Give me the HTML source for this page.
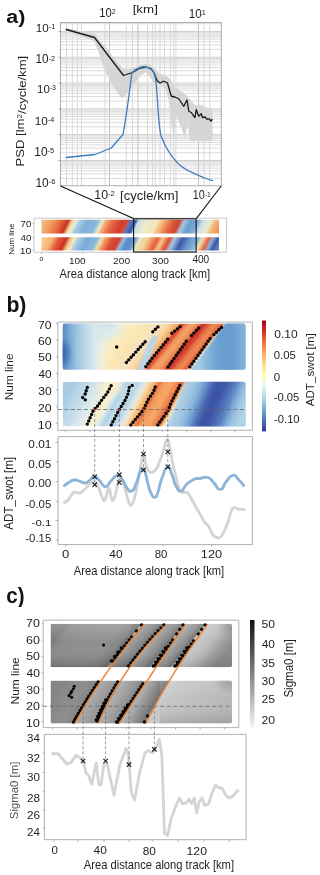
<!DOCTYPE html>
<html><head><meta charset="utf-8"><style>
html,body{margin:0;padding:0;background:#fff;width:320px;height:875px;overflow:hidden;font-family:"Liberation Sans",sans-serif;}
svg{display:block} text{-webkit-font-smoothing:antialiased}
</style></head><body>
<svg width="320" height="875" viewBox="0 0 320 875" font-family="Liberation Sans, sans-serif"><defs><linearGradient id="ga1" gradientUnits="userSpaceOnUse" x1="41.5" y1="0" x2="219" y2="0" gradientTransform="translate(0 226.6) skewX(-26.565) translate(0 -226.6)"><stop offset="0.0000" stop-color="#f6b87a"/><stop offset="0.0479" stop-color="#f09a5c"/><stop offset="0.0930" stop-color="#e86a40"/><stop offset="0.1352" stop-color="#c8302a"/><stop offset="0.1577" stop-color="#f4d08a"/><stop offset="0.1775" stop-color="#e8eed8"/><stop offset="0.2000" stop-color="#a8cce4"/><stop offset="0.2451" stop-color="#7eb0d8"/><stop offset="0.3014" stop-color="#8ab8dc"/><stop offset="0.3296" stop-color="#e8ecd0"/><stop offset="0.3465" stop-color="#f6b070"/><stop offset="0.3859" stop-color="#e86a44"/><stop offset="0.4423" stop-color="#d23c2c"/><stop offset="0.4704" stop-color="#d84a34"/><stop offset="0.4873" stop-color="#5a78c0"/><stop offset="0.5155" stop-color="#3a58a8"/><stop offset="0.5324" stop-color="#c8dcea"/><stop offset="0.5831" stop-color="#f0ecc8"/><stop offset="0.6394" stop-color="#f4e4b8"/><stop offset="0.6789" stop-color="#f4a868"/><stop offset="0.7239" stop-color="#e06040"/><stop offset="0.7634" stop-color="#d04030"/><stop offset="0.7915" stop-color="#a8c8e0"/><stop offset="0.8254" stop-color="#6a9ed0"/><stop offset="0.8704" stop-color="#7eaed8"/><stop offset="0.8930" stop-color="#c8dcea"/><stop offset="0.9380" stop-color="#e8ecd0"/><stop offset="0.9718" stop-color="#f2b070"/><stop offset="1.0000" stop-color="#f09a60"/></linearGradient><linearGradient id="ga2" gradientUnits="userSpaceOnUse" x1="41.5" y1="0" x2="219" y2="0" gradientTransform="translate(0 244) skewX(-26.565) translate(0 -244)"><stop offset="0.0000" stop-color="#f8cc8c"/><stop offset="0.0479" stop-color="#f4b070"/><stop offset="0.0817" stop-color="#e45c3c"/><stop offset="0.1268" stop-color="#cc3028"/><stop offset="0.1493" stop-color="#f0c080"/><stop offset="0.1718" stop-color="#f4ecc8"/><stop offset="0.1944" stop-color="#a8cce4"/><stop offset="0.2451" stop-color="#78aad6"/><stop offset="0.3014" stop-color="#8abadc"/><stop offset="0.3239" stop-color="#f0e0b0"/><stop offset="0.3521" stop-color="#f09058"/><stop offset="0.3859" stop-color="#dc4c34"/><stop offset="0.4254" stop-color="#d04030"/><stop offset="0.4479" stop-color="#98bcdc"/><stop offset="0.4761" stop-color="#5a8ac8"/><stop offset="0.5155" stop-color="#6a98cc"/><stop offset="0.5380" stop-color="#e8e8c8"/><stop offset="0.5831" stop-color="#f4d090"/><stop offset="0.6394" stop-color="#e85c3c"/><stop offset="0.6676" stop-color="#f4c888"/><stop offset="0.7070" stop-color="#dc4a34"/><stop offset="0.7352" stop-color="#a8c8e0"/><stop offset="0.7803" stop-color="#3a5aa8"/><stop offset="0.8254" stop-color="#6a98cc"/><stop offset="0.8704" stop-color="#8ab8dc"/><stop offset="0.8930" stop-color="#f4e0a8"/><stop offset="0.9268" stop-color="#e86040"/><stop offset="0.9493" stop-color="#8ab0d8"/><stop offset="0.9775" stop-color="#3a58a8"/><stop offset="1.0000" stop-color="#5a80c0"/></linearGradient><linearGradient id="gb1" gradientUnits="userSpaceOnUse" x1="62.6" y1="0" x2="245.6" y2="0" gradientTransform="translate(0 347) skewX(-38.660) translate(0 -347)"><stop offset="0.0000" stop-color="#5a88c4"/><stop offset="0.0240" stop-color="#6e9ccf"/><stop offset="0.0623" stop-color="#8cb8da"/><stop offset="0.1060" stop-color="#a8cce4"/><stop offset="0.1497" stop-color="#c4dcea"/><stop offset="0.1880" stop-color="#d8e8ee"/><stop offset="0.2208" stop-color="#eef0dc"/><stop offset="0.2590" stop-color="#f8ecc4"/><stop offset="0.3137" stop-color="#faeab8"/><stop offset="0.3574" stop-color="#fae4b0"/><stop offset="0.3956" stop-color="#f8e4bc"/><stop offset="0.4251" stop-color="#f6e2c0"/><stop offset="0.4448" stop-color="#f6e0bc"/><stop offset="0.4667" stop-color="#f8d8a8"/><stop offset="0.4940" stop-color="#f8cc90"/><stop offset="0.5158" stop-color="#f6b474"/><stop offset="0.5393" stop-color="#f09a5c"/><stop offset="0.5486" stop-color="#d8442e"/><stop offset="0.5650" stop-color="#e05a3a"/><stop offset="0.5814" stop-color="#f0925a"/><stop offset="0.6087" stop-color="#f4a466"/><stop offset="0.6361" stop-color="#ee8a52"/><stop offset="0.6530" stop-color="#e46a44"/><stop offset="0.6634" stop-color="#c83028"/><stop offset="0.6852" stop-color="#d4402e"/><stop offset="0.7126" stop-color="#e8764a"/><stop offset="0.7399" stop-color="#ee8a52"/><stop offset="0.7617" stop-color="#e86a44"/><stop offset="0.7732" stop-color="#e05a3c"/><stop offset="0.7809" stop-color="#f4a868"/><stop offset="0.7891" stop-color="#fbe4b0"/><stop offset="0.8000" stop-color="#c8e0ec"/><stop offset="0.8164" stop-color="#90bcde"/><stop offset="1.0000" stop-color="#80b0d8"/></linearGradient><clipPath id="cb1"><rect x="62.6" y="323.5" width="183" height="46.3" rx="2.5"/></clipPath><clipPath id="cb2"><rect x="62.6" y="381.7" width="183" height="44.8" rx="2.5"/></clipPath><filter id="bl1" x="-20%" y="-20%" width="140%" height="140%"><feGaussianBlur stdDeviation="1.2"/></filter><filter id="bl3" x="-50%" y="-50%" width="200%" height="200%"><feGaussianBlur stdDeviation="3"/></filter><linearGradient id="gbb1" gradientUnits="userSpaceOnUse" x1="200" y1="0" x2="246" y2="0"><stop offset="0" stop-color="#a6cae3"/><stop offset="0.15" stop-color="#86b6da"/><stop offset="0.4" stop-color="#6c9fd0"/><stop offset="0.7" stop-color="#6a9ccf"/><stop offset="1" stop-color="#88b6da"/></linearGradient><linearGradient id="lftb" gradientUnits="userSpaceOnUse" x1="62.6" y1="0" x2="112" y2="0"><stop offset="0" stop-color="#5686c2"/><stop offset="0.12" stop-color="#76a6d4"/><stop offset="0.3" stop-color="#a0c6e2"/><stop offset="0.5" stop-color="#c4dcea"/><stop offset="0.66" stop-color="#dceaee"/><stop offset="0.8" stop-color="#eef0e0" stop-opacity="0.6"/><stop offset="1" stop-color="#f8ecc4" stop-opacity="0"/></linearGradient><linearGradient id="gb2" gradientUnits="userSpaceOnUse" x1="62.6" y1="0" x2="245.6" y2="0" gradientTransform="translate(0 404) skewX(-28.811) translate(0 -404)"><stop offset="0.0000" stop-color="#a8cce4"/><stop offset="0.0404" stop-color="#b8d6e8"/><stop offset="0.0842" stop-color="#c4dcea"/><stop offset="0.1279" stop-color="#d6e6ee"/><stop offset="0.1661" stop-color="#e4ece6"/><stop offset="0.1989" stop-color="#eef0dc"/><stop offset="0.2098" stop-color="#f4eed4"/><stop offset="0.2317" stop-color="#fbf0c8"/><stop offset="0.2536" stop-color="#e0ecec"/><stop offset="0.2809" stop-color="#b4d4e8"/><stop offset="0.3082" stop-color="#c0daea"/><stop offset="0.3284" stop-color="#c4dcea"/><stop offset="0.3519" stop-color="#b8d6e8"/><stop offset="0.3792" stop-color="#d8e8ec"/><stop offset="0.4011" stop-color="#f4e4c0"/><stop offset="0.4230" stop-color="#f8c888"/><stop offset="0.4448" stop-color="#f4a868"/><stop offset="0.4563" stop-color="#f0905a"/><stop offset="0.4667" stop-color="#ea7046"/><stop offset="0.4885" stop-color="#f29c5e"/><stop offset="0.5322" stop-color="#f6a866"/><stop offset="0.5650" stop-color="#ee8652"/><stop offset="0.5902" stop-color="#e05a3a"/><stop offset="0.5995" stop-color="#f08a50"/><stop offset="0.6115" stop-color="#f8cc90"/><stop offset="0.6224" stop-color="#fbecc8"/><stop offset="0.6415" stop-color="#c8e0ec"/><stop offset="1.0000" stop-color="#a8cce4"/></linearGradient><linearGradient id="gbb2" gradientUnits="userSpaceOnUse" x1="176" y1="0" x2="246" y2="0" gradientTransform="translate(0 404) skewX(-21.801) translate(0 -404)"><stop offset="0.0000" stop-color="#b4d4e8"/><stop offset="0.1429" stop-color="#a0c6e2"/><stop offset="0.2286" stop-color="#8ab6dc"/><stop offset="0.3143" stop-color="#6a96cc"/><stop offset="0.4000" stop-color="#4a68b2"/><stop offset="0.4857" stop-color="#3a52a4"/><stop offset="0.5714" stop-color="#3e56a6"/><stop offset="0.6571" stop-color="#4a6ab2"/><stop offset="0.7429" stop-color="#5a82c2"/><stop offset="0.8286" stop-color="#80acd8"/><stop offset="0.9143" stop-color="#a0c6e2"/><stop offset="1.0000" stop-color="#b0d2e6"/></linearGradient><linearGradient id="cbB" x1="0" y1="0" x2="0" y2="1"><stop offset="0" stop-color="#a50026"/><stop offset="0.1" stop-color="#d73027"/><stop offset="0.2" stop-color="#f46d43"/><stop offset="0.3" stop-color="#fdae61"/><stop offset="0.4" stop-color="#fee090"/><stop offset="0.5" stop-color="#ffffbf"/><stop offset="0.6" stop-color="#e0f3f8"/><stop offset="0.7" stop-color="#abd9e9"/><stop offset="0.8" stop-color="#74add1"/><stop offset="0.9" stop-color="#4575b4"/><stop offset="1" stop-color="#313695"/></linearGradient><clipPath id="cc1"><rect x="50.5" y="623.7" width="181.5" height="43.6" rx="2"/></clipPath><clipPath id="cc2"><rect x="50.5" y="680.6" width="181.5" height="43" rx="2"/></clipPath><linearGradient id="gc1" gradientUnits="userSpaceOnUse" x1="50.5" y1="0" x2="232" y2="0" gradientTransform="translate(0 645) skewX(-38.660) translate(0 -645)"><stop offset="0.0000" stop-color="#7a7a7a"/><stop offset="0.0303" stop-color="#888888"/><stop offset="0.1625" stop-color="#8e8e8e"/><stop offset="0.3003" stop-color="#8e8e8e"/><stop offset="0.3664" stop-color="#858585"/><stop offset="0.4017" stop-color="#727272"/><stop offset="0.4127" stop-color="#aaaaaa"/><stop offset="0.4435" stop-color="#9a9a9a"/><stop offset="0.4876" stop-color="#8a8a8a"/><stop offset="0.5201" stop-color="#747474"/><stop offset="0.5311" stop-color="#b0b0b0"/><stop offset="0.5647" stop-color="#9c9c9c"/><stop offset="0.6088" stop-color="#8a8a8a"/><stop offset="0.6386" stop-color="#727272"/><stop offset="0.6496" stop-color="#b4b4b4"/><stop offset="0.6860" stop-color="#a0a0a0"/><stop offset="0.7300" stop-color="#8c8c8c"/><stop offset="0.7559" stop-color="#747474"/><stop offset="0.7669" stop-color="#c8c8c8"/><stop offset="0.8237" stop-color="#c4c4c4"/><stop offset="0.8788" stop-color="#b8b8b8"/><stop offset="0.9339" stop-color="#a0a0a0"/><stop offset="1.0000" stop-color="#8a8a8a"/></linearGradient><linearGradient id="gc2" gradientUnits="userSpaceOnUse" x1="50.5" y1="0" x2="232" y2="0" gradientTransform="translate(0 702) skewX(-30.114) translate(0 -702)"><stop offset="0.0000" stop-color="#848484"/><stop offset="0.0523" stop-color="#8a8a8a"/><stop offset="0.1350" stop-color="#8e8e8e"/><stop offset="0.1945" stop-color="#828282"/><stop offset="0.2055" stop-color="#aeaeae"/><stop offset="0.2452" stop-color="#a2a2a2"/><stop offset="0.2893" stop-color="#959595"/><stop offset="0.3168" stop-color="#848484"/><stop offset="0.3278" stop-color="#b0b0b0"/><stop offset="0.3664" stop-color="#a4a4a4"/><stop offset="0.4160" stop-color="#949494"/><stop offset="0.4452" stop-color="#828282"/><stop offset="0.4562" stop-color="#b4b4b4"/><stop offset="0.4931" stop-color="#a4a4a4"/><stop offset="0.5372" stop-color="#8a8a8a"/><stop offset="0.5802" stop-color="#727272"/><stop offset="0.5912" stop-color="#cccccc"/><stop offset="0.6584" stop-color="#c6c6c6"/><stop offset="0.7686" stop-color="#c0c0c0"/><stop offset="0.8788" stop-color="#bcbcbc"/><stop offset="1.0000" stop-color="#b6b6b6"/></linearGradient><linearGradient id="vshade" x1="0" y1="0" x2="0" y2="1"><stop offset="0" stop-color="#fff" stop-opacity="0.2"/><stop offset="0.45" stop-color="#fff" stop-opacity="0"/><stop offset="1" stop-color="#000" stop-opacity="0.2"/></linearGradient><linearGradient id="cbC" x1="0" y1="0" x2="0" y2="1"><stop offset="0" stop-color="#111"/><stop offset="1" stop-color="#f4f4f4"/></linearGradient></defs><line x1="60.50" y1="178.48" x2="221.25" y2="178.48" stroke="#d8d8d8" stroke-width="0.9" />
<line x1="60.50" y1="173.94" x2="221.25" y2="173.94" stroke="#d8d8d8" stroke-width="0.9" />
<line x1="60.50" y1="170.72" x2="221.25" y2="170.72" stroke="#d8d8d8" stroke-width="0.9" />
<line x1="60.50" y1="168.22" x2="221.25" y2="168.22" stroke="#d8d8d8" stroke-width="0.9" />
<line x1="60.50" y1="166.17" x2="221.25" y2="166.17" stroke="#d8d8d8" stroke-width="0.9" />
<line x1="60.50" y1="164.45" x2="221.25" y2="164.45" stroke="#d8d8d8" stroke-width="0.9" />
<line x1="60.50" y1="162.95" x2="221.25" y2="162.95" stroke="#d8d8d8" stroke-width="0.9" />
<line x1="60.50" y1="161.63" x2="221.25" y2="161.63" stroke="#d8d8d8" stroke-width="0.9" />
<line x1="60.50" y1="160.45" x2="221.25" y2="160.45" stroke="#c8c8c8" stroke-width="0.9" />
<line x1="60.50" y1="152.68" x2="221.25" y2="152.68" stroke="#d8d8d8" stroke-width="0.9" />
<line x1="60.50" y1="148.14" x2="221.25" y2="148.14" stroke="#d8d8d8" stroke-width="0.9" />
<line x1="60.50" y1="144.92" x2="221.25" y2="144.92" stroke="#d8d8d8" stroke-width="0.9" />
<line x1="60.50" y1="142.42" x2="221.25" y2="142.42" stroke="#d8d8d8" stroke-width="0.9" />
<line x1="60.50" y1="140.37" x2="221.25" y2="140.37" stroke="#d8d8d8" stroke-width="0.9" />
<line x1="60.50" y1="138.65" x2="221.25" y2="138.65" stroke="#d8d8d8" stroke-width="0.9" />
<line x1="60.50" y1="137.15" x2="221.25" y2="137.15" stroke="#d8d8d8" stroke-width="0.9" />
<line x1="60.50" y1="135.83" x2="221.25" y2="135.83" stroke="#d8d8d8" stroke-width="0.9" />
<line x1="60.50" y1="134.65" x2="221.25" y2="134.65" stroke="#c8c8c8" stroke-width="0.9" />
<line x1="60.50" y1="126.88" x2="221.25" y2="126.88" stroke="#d8d8d8" stroke-width="0.9" />
<line x1="60.50" y1="122.34" x2="221.25" y2="122.34" stroke="#d8d8d8" stroke-width="0.9" />
<line x1="60.50" y1="119.12" x2="221.25" y2="119.12" stroke="#d8d8d8" stroke-width="0.9" />
<line x1="60.50" y1="116.62" x2="221.25" y2="116.62" stroke="#d8d8d8" stroke-width="0.9" />
<line x1="60.50" y1="114.57" x2="221.25" y2="114.57" stroke="#d8d8d8" stroke-width="0.9" />
<line x1="60.50" y1="112.85" x2="221.25" y2="112.85" stroke="#d8d8d8" stroke-width="0.9" />
<line x1="60.50" y1="111.35" x2="221.25" y2="111.35" stroke="#d8d8d8" stroke-width="0.9" />
<line x1="60.50" y1="110.03" x2="221.25" y2="110.03" stroke="#d8d8d8" stroke-width="0.9" />
<line x1="60.50" y1="108.85" x2="221.25" y2="108.85" stroke="#c8c8c8" stroke-width="0.9" />
<line x1="60.50" y1="101.08" x2="221.25" y2="101.08" stroke="#d8d8d8" stroke-width="0.9" />
<line x1="60.50" y1="96.54" x2="221.25" y2="96.54" stroke="#d8d8d8" stroke-width="0.9" />
<line x1="60.50" y1="93.32" x2="221.25" y2="93.32" stroke="#d8d8d8" stroke-width="0.9" />
<line x1="60.50" y1="90.82" x2="221.25" y2="90.82" stroke="#d8d8d8" stroke-width="0.9" />
<line x1="60.50" y1="88.77" x2="221.25" y2="88.77" stroke="#d8d8d8" stroke-width="0.9" />
<line x1="60.50" y1="87.05" x2="221.25" y2="87.05" stroke="#d8d8d8" stroke-width="0.9" />
<line x1="60.50" y1="85.55" x2="221.25" y2="85.55" stroke="#d8d8d8" stroke-width="0.9" />
<line x1="60.50" y1="84.23" x2="221.25" y2="84.23" stroke="#d8d8d8" stroke-width="0.9" />
<line x1="60.50" y1="83.05" x2="221.25" y2="83.05" stroke="#c8c8c8" stroke-width="0.9" />
<line x1="60.50" y1="75.28" x2="221.25" y2="75.28" stroke="#d8d8d8" stroke-width="0.9" />
<line x1="60.50" y1="70.74" x2="221.25" y2="70.74" stroke="#d8d8d8" stroke-width="0.9" />
<line x1="60.50" y1="67.52" x2="221.25" y2="67.52" stroke="#d8d8d8" stroke-width="0.9" />
<line x1="60.50" y1="65.02" x2="221.25" y2="65.02" stroke="#d8d8d8" stroke-width="0.9" />
<line x1="60.50" y1="62.97" x2="221.25" y2="62.97" stroke="#d8d8d8" stroke-width="0.9" />
<line x1="60.50" y1="61.25" x2="221.25" y2="61.25" stroke="#d8d8d8" stroke-width="0.9" />
<line x1="60.50" y1="59.75" x2="221.25" y2="59.75" stroke="#d8d8d8" stroke-width="0.9" />
<line x1="60.50" y1="58.43" x2="221.25" y2="58.43" stroke="#d8d8d8" stroke-width="0.9" />
<line x1="60.50" y1="57.25" x2="221.25" y2="57.25" stroke="#c8c8c8" stroke-width="0.9" />
<line x1="60.50" y1="49.48" x2="221.25" y2="49.48" stroke="#d8d8d8" stroke-width="0.9" />
<line x1="60.50" y1="44.94" x2="221.25" y2="44.94" stroke="#d8d8d8" stroke-width="0.9" />
<line x1="60.50" y1="41.72" x2="221.25" y2="41.72" stroke="#d8d8d8" stroke-width="0.9" />
<line x1="60.50" y1="39.22" x2="221.25" y2="39.22" stroke="#d8d8d8" stroke-width="0.9" />
<line x1="60.50" y1="37.17" x2="221.25" y2="37.17" stroke="#d8d8d8" stroke-width="0.9" />
<line x1="60.50" y1="35.45" x2="221.25" y2="35.45" stroke="#d8d8d8" stroke-width="0.9" />
<line x1="60.50" y1="33.95" x2="221.25" y2="33.95" stroke="#d8d8d8" stroke-width="0.9" />
<line x1="60.50" y1="32.63" x2="221.25" y2="32.63" stroke="#d8d8d8" stroke-width="0.9" />
<line x1="60.50" y1="31.45" x2="221.25" y2="31.45" stroke="#c8c8c8" stroke-width="0.9" />
<line x1="60.50" y1="23.68" x2="221.25" y2="23.68" stroke="#d8d8d8" stroke-width="0.9" />
<line x1="66.50" y1="22.50" x2="66.50" y2="185.80" stroke="#d6d6d6" stroke-width="0.9" />
<line x1="72.40" y1="22.50" x2="72.40" y2="185.80" stroke="#d6d6d6" stroke-width="0.9" />
<line x1="77.40" y1="22.50" x2="77.40" y2="185.80" stroke="#d6d6d6" stroke-width="0.9" />
<line x1="81.50" y1="22.50" x2="81.50" y2="185.80" stroke="#d6d6d6" stroke-width="0.9" />
<line x1="105.00" y1="22.50" x2="105.00" y2="185.80" stroke="#d6d6d6" stroke-width="0.9" />
<line x1="126.25" y1="22.50" x2="126.25" y2="185.80" stroke="#d6d6d6" stroke-width="0.9" />
<line x1="132.50" y1="22.50" x2="132.50" y2="185.80" stroke="#d6d6d6" stroke-width="0.9" />
<line x1="147.50" y1="22.50" x2="147.50" y2="185.80" stroke="#d6d6d6" stroke-width="0.9" />
<line x1="152.50" y1="22.50" x2="152.50" y2="185.80" stroke="#d6d6d6" stroke-width="0.9" />
<line x1="155.20" y1="22.50" x2="155.20" y2="185.80" stroke="#d6d6d6" stroke-width="0.9" />
<line x1="160.00" y1="22.50" x2="160.00" y2="185.80" stroke="#d6d6d6" stroke-width="0.9" />
<line x1="164.50" y1="22.50" x2="164.50" y2="185.80" stroke="#d6d6d6" stroke-width="0.9" />
<line x1="170.30" y1="22.50" x2="170.30" y2="185.80" stroke="#d6d6d6" stroke-width="0.9" />
<line x1="173.80" y1="22.50" x2="173.80" y2="185.80" stroke="#d6d6d6" stroke-width="0.9" />
<line x1="175.90" y1="22.50" x2="175.90" y2="185.80" stroke="#d6d6d6" stroke-width="0.9" />
<line x1="204.10" y1="22.50" x2="204.10" y2="185.80" stroke="#d6d6d6" stroke-width="0.9" />
<line x1="209.70" y1="22.50" x2="209.70" y2="185.80" stroke="#d6d6d6" stroke-width="0.9" />
<line x1="109.50" y1="22.50" x2="109.50" y2="185.80" stroke="#c4c4c4" stroke-width="1.0" />
<line x1="138.00" y1="22.50" x2="138.00" y2="185.80" stroke="#c4c4c4" stroke-width="1.0" />
<line x1="198.50" y1="22.50" x2="198.50" y2="185.80" stroke="#c4c4c4" stroke-width="1.0" />
<polygon points="66.00,28.00 94.50,33.50 123.00,68.70 130.00,68.70 145.00,63.70 150.00,64.50 160.00,73.70 165.00,75.00 170.00,78.70 175.00,87.50 185.00,93.70 195.00,105.00 200.00,104.50 212.50,110.00 212.50,141.20 190.00,141.20 187.50,125.00 185.00,137.50 176.20,115.00 173.70,140.00 168.70,100.00 165.00,87.50 156.00,82.00 154.40,83.00 146.00,71.90 141.30,74.70 131.90,86.90 122.50,99.10 113.10,86.90 104.70,70.00 94.50,41.20 66.00,31.00" fill="#d6d6d6" />
<polyline points="66.25,29.50 94.50,37.50 123.50,75.50 132.50,72.50 140.00,68.00 146.25,67.00 151.25,68.75 154.50,73.75 157.00,80.50 160.00,83.00 163.75,81.25 167.50,83.00 171.25,96.25 175.00,97.00 178.75,98.75 183.75,106.25 187.00,100.00 188.75,111.25 191.25,112.50 193.00,115.00 195.00,117.50 196.25,109.50 198.75,116.25 201.25,113.75 202.50,117.50 205.00,117.00 207.50,119.50 209.50,118.75 210.75,121.25 212.00,119.50" stroke="#1a1a1a" stroke-width="1.3" fill="none" stroke-linejoin="round" stroke-linecap="round" />
<polyline points="66.25,157.50 95.00,154.50 111.25,148.00 123.00,134.50 127.00,110.00 132.00,72.50" stroke="#3d7cc0" stroke-width="1.3" fill="none" stroke-linejoin="round" stroke-linecap="round" />
<path d="M132.00 72.50 C133.80 71.30 135.28 69.47 138.75 68.00 C142.22 66.53 141.67 66.60 145.00 67.00 C148.33 67.40 148.72 67.50 151.25 69.50 C153.78 71.50 153.15 70.37 154.50 74.50 C155.85 78.63 155.53 78.20 156.30 85.00 C157.07 91.80 156.49 88.53 157.40 100.00 C158.31 111.47 158.34 117.52 159.70 128.00 C161.06 138.48 160.26 133.27 162.50 139.30 C164.74 145.33 164.37 144.60 168.10 150.60 C171.83 156.60 171.99 156.95 176.50 161.80 C181.01 166.65 179.75 165.44 185.00 168.80 C190.25 172.16 190.97 171.95 196.20 174.40 C201.43 176.85 200.25 176.35 204.60 178.00 C208.95 179.65 210.39 179.91 212.50 180.60" stroke="#3d7cc0" stroke-width="1.3" fill="none" stroke-linecap="round" stroke-linejoin="round"/>
<rect x="60.5" y="22.5" width="160.75" height="163.3" fill="none" stroke="#9a9a9a" stroke-width="0.8" />
<rect x="41.5" y="219.75" width="177.5" height="13.75" fill="url(#ga1)" stroke="none" stroke-width="1" />
<rect x="41.5" y="237.25" width="177.5" height="13.25" fill="url(#ga2)" stroke="none" stroke-width="1" />
<path d="M34 218.2 H226.6 V252.25 H34 Z" fill="none" stroke="#b0b0b0" stroke-width="0.7"/>
<line x1="32.50" y1="223.40" x2="34.00" y2="223.40" stroke="#999" stroke-width="0.6" />
<line x1="32.50" y1="237.80" x2="34.00" y2="237.80" stroke="#999" stroke-width="0.6" />
<line x1="32.50" y1="250.30" x2="34.00" y2="250.30" stroke="#999" stroke-width="0.6" />
<line x1="60.50" y1="186.00" x2="133.50" y2="218.60" stroke="#111" stroke-width="1.1" />
<line x1="221.25" y1="186.00" x2="196.30" y2="218.60" stroke="#111" stroke-width="1.1" />
<rect x="133.6" y="218.8" width="62.5" height="33.2" fill="none" stroke="#111" stroke-width="1.1" />
<path d="M57.8 322.1 H252.3 V430.3 H57.8 Z" fill="none" stroke="#a0a0a0" stroke-width="0.8"/>
<g clip-path="url(#cb1)">
<rect x="62.6" y="323.5" width="183" height="46.3" fill="url(#gb1)"/>
<polygon points="227.4,320 250,320 250,373 189.3,373" fill="url(#gbb1)" filter="url(#bl1)"/>
<rect x="62.6" y="323.5" width="50" height="46.3" fill="url(#lftb)"/>
<ellipse cx="108" cy="331" rx="13" ry="6" fill="#dbe9ee" opacity="0.75" filter="url(#bl3)"/>
<polygon points="136.5,372 144.5,372 155.5,343 158,336 153,336 148.5,343" fill="#b6d6e9" filter="url(#bl1)"/>
<ellipse cx="63" cy="353" rx="6" ry="11" fill="#3660ac" opacity="0.85" filter="url(#bl3)"/>
</g>
<g clip-path="url(#cb2)">
<rect x="62.6" y="381.7" width="183" height="44.8" fill="url(#gb2)"/>
<ellipse cx="110" cy="388" rx="12" ry="6" fill="#faeec4" opacity="0.7" filter="url(#bl3)"/>
<polygon points="186.7,378 250,378 250,430 165.3,430" fill="url(#gbb2)" filter="url(#bl1)"/>
</g>
<circle cx="116.7" cy="347" r="1.7" fill="#000"/>
<path d="M126.40 362.50 L146.70 340.00" stroke="#000" stroke-width="3.4" fill="none" stroke-linecap="round" stroke-dasharray="0 3.5"/>
<path d="M152.80 331.70 L158.60 326.25" stroke="#000" stroke-width="3.4" fill="none" stroke-linecap="round" stroke-dasharray="0 3.5"/>
<path d="M145.80 366.60 L150.80 359.80 L168.75 338.00" stroke="#000" stroke-width="3.4" fill="none" stroke-linecap="round" stroke-dasharray="0 3.5"/>
<path d="M171.90 333.30 L180.50 326.25" stroke="#000" stroke-width="3.4" fill="none" stroke-linecap="round" stroke-dasharray="0 3.5"/>
<path d="M168.00 366.90 L188.30 338.40" stroke="#000" stroke-width="3.4" fill="none" stroke-linecap="round" stroke-dasharray="0 3.5"/>
<path d="M191.40 335.60 L200.20 326.50" stroke="#000" stroke-width="3.4" fill="none" stroke-linecap="round" stroke-dasharray="0 3.5"/>
<path d="M189.80 366.90 L210.50 338.00" stroke="#000" stroke-width="3.4" fill="none" stroke-linecap="round" stroke-dasharray="0 3.5"/>
<path d="M213.90 334.60 L222.50 326.50" stroke="#000" stroke-width="3.4" fill="none" stroke-linecap="round" stroke-dasharray="0 3.5"/>
<path d="M87.30 387.40 L85.00 394.40" stroke="#000" stroke-width="3.4" fill="none" stroke-linecap="round" stroke-dasharray="0 3.5"/>
<path d="M82.70 397.50 L85.30 399.90" stroke="#000" stroke-width="3.4" fill="none" stroke-linecap="round" stroke-dasharray="0 3.5"/>
<path d="M87.30 424.10 L93.60 410.00 L97.50 406.10 L103.00 398.30 L106.90 393.60 L112.00 384.25" stroke="#000" stroke-width="3.4" fill="none" stroke-linecap="round" stroke-dasharray="0 3.5"/>
<path d="M111.25 424.90 L119.00 410.00 L125.30 399.90 L128.40 392.80 L129.20 387.40 L133.90 384.25" stroke="#000" stroke-width="3.4" fill="none" stroke-linecap="round" stroke-dasharray="0 3.5"/>
<path d="M130.80 424.90 L143.30 410.00 L148.00 399.90 L153.40 392.00 L156.25 384.25" stroke="#000" stroke-width="3.4" fill="none" stroke-linecap="round" stroke-dasharray="0 3.5"/>
<path d="M157.80 424.90 L168.00 410.80 L171.00 403.00 L175.00 395.20 L180.50 384.25" stroke="#000" stroke-width="3.4" fill="none" stroke-linecap="round" stroke-dasharray="0 3.5"/>
<line x1="57.80" y1="409.50" x2="245.60" y2="409.50" stroke="#6a6a6a" stroke-width="0.8" stroke-dasharray="4 2.5"/>
<circle cx="94.7" cy="409.5" r="1.1" fill="#e02828"/>
<circle cx="119" cy="409.5" r="1.1" fill="#e02828"/>
<circle cx="143.3" cy="409.5" r="1.1" fill="#e02828"/>
<circle cx="167.8" cy="409.5" r="1.1" fill="#e02828"/>
<line x1="56.00" y1="323.40" x2="57.80" y2="323.40" stroke="#888" stroke-width="0.6" />
<line x1="56.00" y1="340.05" x2="57.80" y2="340.05" stroke="#888" stroke-width="0.6" />
<line x1="56.00" y1="356.70" x2="57.80" y2="356.70" stroke="#888" stroke-width="0.6" />
<line x1="56.00" y1="373.35" x2="57.80" y2="373.35" stroke="#888" stroke-width="0.6" />
<line x1="56.00" y1="390.00" x2="57.80" y2="390.00" stroke="#888" stroke-width="0.6" />
<line x1="56.00" y1="406.65" x2="57.80" y2="406.65" stroke="#888" stroke-width="0.6" />
<line x1="56.00" y1="423.30" x2="57.80" y2="423.30" stroke="#888" stroke-width="0.6" />
<rect x="262" y="320.5" width="4" height="110.9" fill="url(#cbB)" stroke="none" stroke-width="1" />
<path d="M58.1 436.6 H252.4 V544.6 H58.1 Z" fill="none" stroke="#9a9a9a" stroke-width="0.8"/>
<path d="M64.40 502.50 C65.12 502.00 66.13 502.00 68.00 500.00 C69.87 498.00 71.35 493.90 73.75 492.50 C76.15 491.10 77.75 493.70 80.00 493.00 C82.25 492.30 83.00 490.80 85.00 489.00 C87.00 487.20 88.20 485.48 90.00 484.00 C91.80 482.52 92.40 481.20 94.00 481.60 C95.60 482.00 96.12 482.32 98.00 486.00 C99.88 489.68 101.80 497.80 103.40 500.00 C105.00 502.20 104.88 499.40 106.00 497.00 C107.12 494.60 107.80 487.40 109.00 488.00 C110.20 488.60 110.80 498.40 112.00 500.00 C113.20 501.60 113.46 500.40 115.00 496.00 C116.54 491.60 117.90 480.20 119.70 478.00 C121.50 475.80 122.34 480.60 124.00 485.00 C125.66 489.40 126.48 496.00 128.00 500.00 C129.52 504.00 130.00 506.60 131.60 505.00 C133.20 503.40 134.32 499.00 136.00 492.00 C137.68 485.00 138.52 477.40 140.00 470.00 C141.48 462.60 142.20 456.00 143.40 455.00 C144.60 454.00 144.68 461.60 146.00 465.00 C147.32 468.40 147.95 471.20 150.00 472.00 C152.05 472.80 153.85 472.40 156.25 469.00 C158.65 465.60 159.69 460.92 162.00 455.00 C164.31 449.08 165.80 438.40 167.80 439.40 C169.80 440.40 169.62 450.00 172.00 460.00 C174.38 470.00 176.60 482.90 179.70 489.40 C182.80 495.90 185.04 490.38 187.50 492.50 C189.96 494.62 189.82 496.25 192.00 500.00 C194.18 503.75 195.86 506.81 198.40 511.25 C200.94 515.69 202.70 519.29 204.70 522.20 C206.70 525.11 206.74 523.24 208.40 525.80 C210.06 528.36 210.94 532.60 213.00 535.00 C215.06 537.40 216.90 537.80 218.70 537.80 C220.50 537.80 220.28 537.76 222.00 535.00 C223.72 532.24 225.20 529.28 227.30 524.00 C229.40 518.72 230.36 511.60 232.50 508.60 C234.64 505.60 235.60 508.80 238.00 509.00 C240.40 509.20 243.20 509.48 244.50 509.60" stroke="#d4d4d4" stroke-width="2.8" fill="none" stroke-linecap="round" stroke-linejoin="round"/>
<path d="M64.40 485.60 C65.60 484.73 64.88 484.87 68.00 483.00 C71.12 481.13 70.08 480.67 73.75 480.00 C77.42 479.33 75.35 480.00 79.00 481.00 C82.65 482.00 81.37 483.00 84.70 483.00 C88.03 483.00 85.90 483.03 89.00 481.00 C92.10 478.97 90.67 477.23 94.00 476.90 C97.33 476.57 96.00 477.30 99.00 480.00 C102.00 482.70 100.47 482.92 103.00 485.00 C105.53 487.08 103.93 487.58 106.60 486.25 C109.27 484.92 107.37 484.65 111.00 481.00 C114.63 477.35 113.83 475.97 117.50 475.30 C121.17 474.63 118.83 474.77 122.00 479.00 C125.17 483.23 123.80 484.00 127.00 488.00 C130.20 492.00 128.60 492.33 131.60 491.00 C134.60 489.67 133.20 490.33 136.00 484.00 C138.80 477.67 137.83 477.00 140.00 472.00 C142.17 467.00 140.83 469.00 142.50 469.00 C144.17 469.00 143.17 467.00 145.00 472.00 C146.83 477.00 146.00 477.00 148.00 484.00 C150.00 491.00 148.77 488.60 151.00 493.00 C153.23 497.40 152.37 497.53 154.70 497.20 C157.03 496.87 155.57 498.40 158.00 492.00 C160.43 485.60 158.73 486.17 162.00 478.00 C165.27 469.83 164.47 468.50 167.80 467.50 C171.13 466.50 169.27 468.83 172.00 475.00 C174.73 481.17 172.92 480.67 176.00 486.00 C179.08 491.33 177.92 491.33 181.25 491.00 C184.58 490.67 181.83 488.87 186.00 485.00 C190.17 481.13 189.08 481.57 193.75 479.40 C198.42 477.23 195.32 479.13 200.00 478.50 C204.68 477.87 203.13 476.00 207.80 477.50 C212.47 479.00 209.83 479.03 214.00 483.00 C218.17 486.97 216.30 489.73 220.30 489.40 C224.30 489.07 221.83 486.70 226.00 482.00 C230.17 477.30 228.80 476.30 232.80 475.30 C236.80 474.30 234.35 475.57 238.00 479.00 C241.65 482.43 241.83 483.40 243.75 485.60" stroke="#8cb3d8" stroke-width="2.8" fill="none" stroke-linecap="round" stroke-linejoin="round"/>
<line x1="94.70" y1="409.00" x2="94.70" y2="484.70" stroke="#666" stroke-width="0.65" stroke-dasharray="3 2"/>
<path d="M92.5 474.7 L96.9 479.09999999999997 M92.5 479.09999999999997 L96.9 474.7" stroke="#1a1a1a" stroke-width="1.1"/>
<path d="M92.5 482.5 L96.9 486.9 M92.5 486.9 L96.9 482.5" stroke="#1a1a1a" stroke-width="1.1"/>
<line x1="119.30" y1="409.00" x2="119.30" y2="482.50" stroke="#666" stroke-width="0.65" stroke-dasharray="3 2"/>
<path d="M117.1 472.5 L121.5 476.9 M117.1 476.9 L121.5 472.5" stroke="#1a1a1a" stroke-width="1.1"/>
<path d="M117.1 480.3 L121.5 484.7 M117.1 484.7 L121.5 480.3" stroke="#1a1a1a" stroke-width="1.1"/>
<line x1="143.50" y1="409.00" x2="143.50" y2="470.00" stroke="#666" stroke-width="0.65" stroke-dasharray="3 2"/>
<path d="M141.3 451.8 L145.7 456.2 M141.3 456.2 L145.7 451.8" stroke="#1a1a1a" stroke-width="1.1"/>
<path d="M141.3 467.8 L145.7 472.2 M141.3 472.2 L145.7 467.8" stroke="#1a1a1a" stroke-width="1.1"/>
<line x1="167.80" y1="409.00" x2="167.80" y2="466.90" stroke="#666" stroke-width="0.65" stroke-dasharray="3 2"/>
<path d="M165.60000000000002 449.7 L170.0 454.09999999999997 M165.60000000000002 454.09999999999997 L170.0 449.7" stroke="#1a1a1a" stroke-width="1.1"/>
<path d="M165.60000000000002 464.7 L170.0 469.09999999999997 M165.60000000000002 469.09999999999997 L170.0 464.7" stroke="#1a1a1a" stroke-width="1.1"/>
<line x1="55.50" y1="442.50" x2="58.10" y2="442.50" stroke="#888" stroke-width="0.6" />
<line x1="55.50" y1="462.20" x2="58.10" y2="462.20" stroke="#888" stroke-width="0.6" />
<line x1="55.50" y1="481.60" x2="58.10" y2="481.60" stroke="#888" stroke-width="0.6" />
<line x1="55.50" y1="501.25" x2="58.10" y2="501.25" stroke="#888" stroke-width="0.6" />
<line x1="55.50" y1="520.60" x2="58.10" y2="520.60" stroke="#888" stroke-width="0.6" />
<line x1="55.50" y1="540.00" x2="58.10" y2="540.00" stroke="#888" stroke-width="0.6" />
<line x1="65.60" y1="544.60" x2="65.60" y2="546.60" stroke="#888" stroke-width="0.6" />
<line x1="114.00" y1="544.60" x2="114.00" y2="546.60" stroke="#888" stroke-width="0.6" />
<line x1="162.70" y1="544.60" x2="162.70" y2="546.60" stroke="#888" stroke-width="0.6" />
<line x1="211.50" y1="544.60" x2="211.50" y2="546.60" stroke="#888" stroke-width="0.6" />
<path d="M43.2 620.2 H238.8 V727.6 H43.2 Z" fill="none" stroke="#a0a0a0" stroke-width="0.8"/>
<g clip-path="url(#cc1)">
<rect x="50.5" y="623.7" width="181.5" height="43.6" fill="url(#gc1)"/>
<rect x="50.5" y="623.7" width="80" height="43.6" fill="url(#vshade)"/>
<rect x="130.5" y="623.7" width="102" height="43.6" fill="url(#vshade)" opacity="0.5"/>
<ellipse cx="232" cy="625" rx="10" ry="8" fill="#000" opacity="0.12" filter="url(#bl3)"/>
</g>
<g clip-path="url(#cc2)">
<rect x="50.5" y="680.6" width="181.5" height="43" fill="url(#gc2)"/>
<rect x="160" y="680.6" width="72" height="43" fill="url(#vshade)" opacity="0.6"/>
<ellipse cx="232" cy="682" rx="14" ry="8" fill="#000" opacity="0.12" filter="url(#bl3)"/>
</g>
<line x1="43.20" y1="706.30" x2="232.00" y2="706.30" stroke="#6a6a6a" stroke-width="0.8" stroke-dasharray="4 2.5"/>
<circle cx="103.6" cy="645.1" r="1.55" fill="#000"/>
<circle cx="74.2" cy="686.2" r="1.55" fill="#000"/>
<circle cx="73.4" cy="688.7" r="1.55" fill="#000"/>
<circle cx="71.6" cy="691.3" r="1.55" fill="#000"/>
<circle cx="70.8" cy="693" r="1.55" fill="#000"/>
<circle cx="69" cy="695.6" r="1.55" fill="#000"/>
<circle cx="71.6" cy="697.3" r="1.55" fill="#000"/>
<circle cx="113.11" cy="661.0" r="1.8" fill="#000"/>
<circle cx="115.34" cy="658.0" r="1.8" fill="#000"/>
<circle cx="117.59" cy="655.0" r="1.8" fill="#000"/>
<circle cx="119.87" cy="652.0" r="1.8" fill="#000"/>
<circle cx="122.18" cy="649.0" r="1.8" fill="#000"/>
<circle cx="124.52" cy="646.0" r="1.8" fill="#000"/>
<circle cx="126.88" cy="643.0" r="1.8" fill="#000"/>
<circle cx="129.27" cy="640.0" r="1.8" fill="#000"/>
<circle cx="131.68" cy="637.0" r="1.8" fill="#000"/>
<circle cx="136.59" cy="631.0" r="1.8" fill="#000"/>
<circle cx="141.61" cy="625.0" r="1.8" fill="#000"/>
<circle cx="128.76" cy="666.0" r="1.8" fill="#000"/>
<circle cx="130.94" cy="663.07" r="1.8" fill="#000"/>
<circle cx="133.16" cy="660.14" r="1.8" fill="#000"/>
<circle cx="135.44" cy="657.21" r="1.8" fill="#000"/>
<circle cx="137.77" cy="654.29" r="1.8" fill="#000"/>
<circle cx="140.15" cy="651.36" r="1.8" fill="#000"/>
<circle cx="142.58" cy="648.43" r="1.8" fill="#000"/>
<circle cx="145.07" cy="645.5" r="1.8" fill="#000"/>
<circle cx="147.6" cy="642.57" r="1.8" fill="#000"/>
<circle cx="150.19" cy="639.64" r="1.8" fill="#000"/>
<circle cx="152.82" cy="636.71" r="1.8" fill="#000"/>
<circle cx="155.51" cy="633.79" r="1.8" fill="#000"/>
<circle cx="158.25" cy="630.86" r="1.8" fill="#000"/>
<circle cx="161.04" cy="627.93" r="1.8" fill="#000"/>
<circle cx="163.88" cy="625.0" r="1.8" fill="#000"/>
<circle cx="155.66" cy="665.0" r="1.8" fill="#000"/>
<circle cx="157.78" cy="661.88" r="1.8" fill="#000"/>
<circle cx="159.9" cy="658.75" r="1.8" fill="#000"/>
<circle cx="162.02" cy="655.62" r="1.8" fill="#000"/>
<circle cx="164.15" cy="652.5" r="1.8" fill="#000"/>
<circle cx="166.29" cy="649.38" r="1.8" fill="#000"/>
<circle cx="168.43" cy="646.25" r="1.8" fill="#000"/>
<circle cx="170.58" cy="643.12" r="1.8" fill="#000"/>
<circle cx="172.73" cy="640.0" r="1.8" fill="#000"/>
<circle cx="176.87" cy="634.0" r="1.8" fill="#000"/>
<circle cx="179.99" cy="629.5" r="1.8" fill="#000"/>
<circle cx="183.12" cy="625.0" r="1.8" fill="#000"/>
<circle cx="177.17" cy="665.0" r="1.8" fill="#000"/>
<circle cx="179.13" cy="662.0" r="1.8" fill="#000"/>
<circle cx="181.1" cy="659.0" r="1.8" fill="#000"/>
<circle cx="183.1" cy="656.0" r="1.8" fill="#000"/>
<circle cx="185.13" cy="653.0" r="1.8" fill="#000"/>
<circle cx="187.18" cy="650.0" r="1.8" fill="#000"/>
<circle cx="189.25" cy="647.0" r="1.8" fill="#000"/>
<circle cx="191.35" cy="644.0" r="1.8" fill="#000"/>
<circle cx="193.47" cy="641.0" r="1.8" fill="#000"/>
<circle cx="198.51" cy="634.0" r="1.8" fill="#000"/>
<circle cx="201.82" cy="629.5" r="1.8" fill="#000"/>
<circle cx="205.18" cy="625.0" r="1.8" fill="#000"/>
<circle cx="73.61" cy="722.0" r="1.8" fill="#000"/>
<circle cx="75.22" cy="719.14" r="1.8" fill="#000"/>
<circle cx="76.84" cy="716.29" r="1.8" fill="#000"/>
<circle cx="78.49" cy="713.43" r="1.8" fill="#000"/>
<circle cx="80.17" cy="710.57" r="1.8" fill="#000"/>
<circle cx="81.87" cy="707.71" r="1.8" fill="#000"/>
<circle cx="83.59" cy="704.86" r="1.8" fill="#000"/>
<circle cx="85.34" cy="702.0" r="1.8" fill="#000"/>
<circle cx="87.11" cy="699.14" r="1.8" fill="#000"/>
<circle cx="88.91" cy="696.29" r="1.8" fill="#000"/>
<circle cx="90.73" cy="693.43" r="1.8" fill="#000"/>
<circle cx="92.58" cy="690.57" r="1.8" fill="#000"/>
<circle cx="94.45" cy="687.71" r="1.8" fill="#000"/>
<circle cx="96.34" cy="684.86" r="1.8" fill="#000"/>
<circle cx="98.26" cy="682.0" r="1.8" fill="#000"/>
<circle cx="97.4" cy="721.0" r="1.8" fill="#000"/>
<circle cx="98.64" cy="718.0" r="1.8" fill="#000"/>
<circle cx="99.94" cy="715.0" r="1.8" fill="#000"/>
<circle cx="101.3" cy="712.0" r="1.8" fill="#000"/>
<circle cx="102.7" cy="709.0" r="1.8" fill="#000"/>
<circle cx="104.16" cy="706.0" r="1.8" fill="#000"/>
<circle cx="105.68" cy="703.0" r="1.8" fill="#000"/>
<circle cx="107.24" cy="700.0" r="1.8" fill="#000"/>
<circle cx="108.86" cy="697.0" r="1.8" fill="#000"/>
<circle cx="110.54" cy="694.0" r="1.8" fill="#000"/>
<circle cx="112.27" cy="691.0" r="1.8" fill="#000"/>
<circle cx="114.05" cy="688.0" r="1.8" fill="#000"/>
<circle cx="115.89" cy="685.0" r="1.8" fill="#000"/>
<circle cx="117.78" cy="682.0" r="1.8" fill="#000"/>
<circle cx="117.94" cy="722.0" r="1.8" fill="#000"/>
<circle cx="119.83" cy="719.08" r="1.8" fill="#000"/>
<circle cx="121.73" cy="716.15" r="1.8" fill="#000"/>
<circle cx="123.63" cy="713.23" r="1.8" fill="#000"/>
<circle cx="125.54" cy="710.31" r="1.8" fill="#000"/>
<circle cx="127.45" cy="707.38" r="1.8" fill="#000"/>
<circle cx="129.37" cy="704.46" r="1.8" fill="#000"/>
<circle cx="131.29" cy="701.54" r="1.8" fill="#000"/>
<circle cx="133.21" cy="698.62" r="1.8" fill="#000"/>
<circle cx="135.14" cy="695.69" r="1.8" fill="#000"/>
<circle cx="137.08" cy="692.77" r="1.8" fill="#000"/>
<circle cx="139.01" cy="689.85" r="1.8" fill="#000"/>
<circle cx="140.96" cy="686.92" r="1.8" fill="#000"/>
<circle cx="142.9" cy="684.0" r="1.8" fill="#000"/>
<circle cx="144.62" cy="722.0" r="1.8" fill="#000"/>
<circle cx="147.64" cy="716.0" r="1.8" fill="#000"/>
<circle cx="111.51" cy="661.0" r="1.8" fill="#000"/>
<circle cx="114.73" cy="656.67" r="1.8" fill="#000"/>
<circle cx="118.02" cy="652.33" r="1.8" fill="#000"/>
<circle cx="121.36" cy="648.0" r="1.8" fill="#000"/>
<circle cx="153.38" cy="666.0" r="1.8" fill="#000"/>
<circle cx="155.82" cy="662.4" r="1.8" fill="#000"/>
<circle cx="158.26" cy="658.8" r="1.8" fill="#000"/>
<circle cx="160.71" cy="655.2" r="1.8" fill="#000"/>
<circle cx="163.17" cy="651.6" r="1.8" fill="#000"/>
<circle cx="165.63" cy="648.0" r="1.8" fill="#000"/>
<circle cx="174.93" cy="666.0" r="1.8" fill="#000"/>
<circle cx="177.27" cy="662.4" r="1.8" fill="#000"/>
<circle cx="179.64" cy="658.8" r="1.8" fill="#000"/>
<circle cx="182.04" cy="655.2" r="1.8" fill="#000"/>
<circle cx="184.48" cy="651.6" r="1.8" fill="#000"/>
<circle cx="186.96" cy="648.0" r="1.8" fill="#000"/>
<circle cx="96.41" cy="720.0" r="1.8" fill="#000"/>
<circle cx="97.81" cy="716.67" r="1.8" fill="#000"/>
<circle cx="99.29" cy="713.33" r="1.8" fill="#000"/>
<circle cx="100.83" cy="710.0" r="1.8" fill="#000"/>
<circle cx="102.43" cy="706.67" r="1.8" fill="#000"/>
<circle cx="104.1" cy="703.33" r="1.8" fill="#000"/>
<circle cx="105.84" cy="700.0" r="1.8" fill="#000"/>
<circle cx="116.54" cy="722.0" r="1.8" fill="#000"/>
<circle cx="118.74" cy="718.6" r="1.8" fill="#000"/>
<circle cx="120.95" cy="715.2" r="1.8" fill="#000"/>
<circle cx="123.17" cy="711.8" r="1.8" fill="#000"/>
<circle cx="125.39" cy="708.4" r="1.8" fill="#000"/>
<circle cx="127.62" cy="705.0" r="1.8" fill="#000"/>
<path d="M75.00 723.10 L76.41 720.58 L77.83 718.06 L79.27 715.55 L80.73 713.03 L82.21 710.51 L83.70 707.99 L85.22 705.47 L86.75 702.96 L88.31 700.44 L89.88 697.92 L91.47 695.40 L93.08 692.88 L94.71 690.37 L96.36 687.85 L98.03 685.33 L99.71 682.81 L101.42 680.29 L103.14 677.78 L104.88 675.26 L106.64 672.74 L108.42 670.22 L110.22 667.71 L112.04 665.19 L113.88 662.67 L115.73 660.15 L117.61 657.63 L119.50 655.12 L121.42 652.60 L123.35 650.08 L125.30 647.56 L127.27 645.04 L129.25 642.53 L131.26 640.01 L133.29 637.49 L135.33 634.97 L137.39 632.45 L139.48 629.94 L141.58 627.42 L143.70 624.90" stroke="#ee8130" stroke-width="1.4" fill="none" stroke-linecap="round"/>
<path d="M98.56 723.10 L99.57 720.58 L100.62 718.06 L101.70 715.55 L102.83 713.03 L103.99 710.51 L105.19 707.99 L106.42 705.47 L107.70 702.96 L109.01 700.44 L110.36 697.92 L111.75 695.40 L113.18 692.88 L114.64 690.37 L116.14 687.85 L117.68 685.33 L119.26 682.81 L120.87 680.29 L122.53 677.78 L124.22 675.26 L125.95 672.74 L127.71 670.22 L129.52 667.71 L131.36 665.19 L133.24 662.67 L135.16 660.15 L137.11 657.63 L139.11 655.12 L141.14 652.60 L143.21 650.08 L145.31 647.56 L147.46 645.04 L149.64 642.53 L151.86 640.01 L154.12 637.49 L156.42 634.97 L158.75 632.45 L161.12 629.94 L163.53 627.42 L165.98 624.90" stroke="#ee8130" stroke-width="1.4" fill="none" stroke-linecap="round"/>
<path d="M119.23 723.10 L120.86 720.58 L122.49 718.06 L124.13 715.55 L125.77 713.03 L127.41 710.51 L129.06 707.99 L130.70 705.47 L132.36 702.96 L134.01 700.44 L135.67 697.92 L137.33 695.40 L139.00 692.88 L140.67 690.37 L142.34 687.85 L144.02 685.33 L145.69 682.81 L147.38 680.29 L149.06 677.78 L150.75 675.26 L152.44 672.74 L154.14 670.22 L155.83 667.71 L157.53 665.19 L159.24 662.67 L160.95 660.15 L162.66 657.63 L164.37 655.12 L166.09 652.60 L167.81 650.08 L169.53 647.56 L171.26 645.04 L172.99 642.53 L174.72 640.01 L176.46 637.49 L178.20 634.97 L179.94 632.45 L181.69 629.94 L183.43 627.42 L185.19 624.90" stroke="#ee8130" stroke-width="1.4" fill="none" stroke-linecap="round"/>
<path d="M146.08 723.10 L147.32 720.58 L148.59 718.06 L149.87 715.55 L151.17 713.03 L152.49 710.51 L153.82 707.99 L155.17 705.47 L156.53 702.96 L157.92 700.44 L159.32 697.92 L160.73 695.40 L162.17 692.88 L163.62 690.37 L165.09 687.85 L166.57 685.33 L168.07 682.81 L169.59 680.29 L171.12 677.78 L172.68 675.26 L174.25 672.74 L175.83 670.22 L177.43 667.71 L179.05 665.19 L180.69 662.67 L182.34 660.15 L184.01 657.63 L185.70 655.12 L187.40 652.60 L189.12 650.08 L190.86 647.56 L192.62 645.04 L194.39 642.53 L196.18 640.01 L197.98 637.49 L199.80 634.97 L201.64 632.45 L203.50 629.94 L205.37 627.42 L207.26 624.90" stroke="#ee8130" stroke-width="1.4" fill="none" stroke-linecap="round"/>
<line x1="41.50" y1="623.80" x2="43.20" y2="623.80" stroke="#888" stroke-width="0.6" />
<line x1="41.50" y1="640.10" x2="43.20" y2="640.10" stroke="#888" stroke-width="0.6" />
<line x1="41.50" y1="656.40" x2="43.20" y2="656.40" stroke="#888" stroke-width="0.6" />
<line x1="41.50" y1="672.70" x2="43.20" y2="672.70" stroke="#888" stroke-width="0.6" />
<line x1="41.50" y1="689.00" x2="43.20" y2="689.00" stroke="#888" stroke-width="0.6" />
<line x1="41.50" y1="705.30" x2="43.20" y2="705.30" stroke="#888" stroke-width="0.6" />
<line x1="41.50" y1="721.60" x2="43.20" y2="721.60" stroke="#888" stroke-width="0.6" />
<rect x="250" y="620" width="4.5" height="107.5" fill="url(#cbC)" stroke="none" stroke-width="1" />
<path d="M44.4 734.4 H246.1 V839.7 H44.4 Z" fill="none" stroke="#9a9a9a" stroke-width="0.8"/>
<polyline points="52.50,753.75 58.10,753.75 66.60,764.00 71.25,762.50 76.00,755.30 79.00,757.00 83.10,761.00 86.25,773.40 88.40,775.00 91.60,784.40 96.25,763.00 98.75,784.40 101.00,785.00 104.00,764.00 107.20,764.00 114.00,795.30 119.70,765.60 126.00,748.40 128.40,754.70 131.25,792.20 134.50,800.00 139.40,773.70 145.00,753.00 148.00,750.50 152.50,753.00 157.00,745.60 159.20,739.20 161.80,755.00 164.50,833.60 167.50,835.50 171.20,818.60 176.80,803.70 179.40,798.00 182.40,803.70 186.20,803.00 189.20,799.20 191.80,803.70 194.40,798.00 196.70,813.00 199.30,801.80 201.90,798.00 204.90,805.50 208.70,803.70 211.60,794.30 215.40,785.00 219.10,788.00 221.80,788.00 226.60,796.20 229.30,798.00 233.00,796.20 237.90,790.50" stroke="#d4d4d4" stroke-width="2.8" fill="none" stroke-linejoin="round" stroke-linecap="round" />
<line x1="83.10" y1="706.30" x2="83.10" y2="761.00" stroke="#666" stroke-width="0.65" stroke-dasharray="3 2"/>
<path d="M80.89999999999999 758.8 L85.3 763.2 M80.89999999999999 763.2 L85.3 758.8" stroke="#1a1a1a" stroke-width="1.1"/>
<line x1="105.60" y1="706.30" x2="105.60" y2="761.00" stroke="#666" stroke-width="0.65" stroke-dasharray="3 2"/>
<path d="M103.39999999999999 758.8 L107.8 763.2 M103.39999999999999 763.2 L107.8 758.8" stroke="#1a1a1a" stroke-width="1.1"/>
<line x1="129.00" y1="706.30" x2="129.00" y2="764.70" stroke="#666" stroke-width="0.65" stroke-dasharray="3 2"/>
<path d="M126.8 762.5 L131.2 766.9000000000001 M126.8 766.9000000000001 L131.2 762.5" stroke="#1a1a1a" stroke-width="1.1"/>
<line x1="154.30" y1="706.30" x2="154.30" y2="749.30" stroke="#666" stroke-width="0.65" stroke-dasharray="3 2"/>
<path d="M152.10000000000002 747.0999999999999 L156.5 751.5 M152.10000000000002 751.5 L156.5 747.0999999999999" stroke="#1a1a1a" stroke-width="1.1"/>
<line x1="42.50" y1="753.10" x2="44.40" y2="753.10" stroke="#888" stroke-width="0.6" />
<line x1="42.50" y1="772.50" x2="44.40" y2="772.50" stroke="#888" stroke-width="0.6" />
<line x1="42.50" y1="791.25" x2="44.40" y2="791.25" stroke="#888" stroke-width="0.6" />
<line x1="42.50" y1="810.00" x2="44.40" y2="810.00" stroke="#888" stroke-width="0.6" />
<line x1="42.50" y1="828.10" x2="44.40" y2="828.10" stroke="#888" stroke-width="0.6" />
<line x1="54.00" y1="839.70" x2="54.00" y2="841.70" stroke="#888" stroke-width="0.6" />
<line x1="78.00" y1="839.70" x2="78.00" y2="841.70" stroke="#888" stroke-width="0.6" />
<line x1="104.00" y1="839.70" x2="104.00" y2="841.70" stroke="#888" stroke-width="0.6" />
<line x1="129.00" y1="839.70" x2="129.00" y2="841.70" stroke="#888" stroke-width="0.6" />
<line x1="153.10" y1="839.70" x2="153.10" y2="841.70" stroke="#888" stroke-width="0.6" />
<line x1="178.00" y1="839.70" x2="178.00" y2="841.70" stroke="#888" stroke-width="0.6" />
<line x1="204.00" y1="839.70" x2="204.00" y2="841.70" stroke="#888" stroke-width="0.6" />
<line x1="229.30" y1="839.70" x2="229.30" y2="841.70" stroke="#888" stroke-width="0.6" />
<line x1="65.50" y1="430.30" x2="65.50" y2="432.30" stroke="#888" stroke-width="0.6" />
<line x1="89.70" y1="430.30" x2="89.70" y2="432.30" stroke="#888" stroke-width="0.6" />
<line x1="113.90" y1="430.30" x2="113.90" y2="432.30" stroke="#888" stroke-width="0.6" />
<line x1="138.10" y1="430.30" x2="138.10" y2="432.30" stroke="#888" stroke-width="0.6" />
<line x1="162.30" y1="430.30" x2="162.30" y2="432.30" stroke="#888" stroke-width="0.6" />
<line x1="186.50" y1="430.30" x2="186.50" y2="432.30" stroke="#888" stroke-width="0.6" />
<line x1="210.70" y1="430.30" x2="210.70" y2="432.30" stroke="#888" stroke-width="0.6" />
<line x1="234.90" y1="430.30" x2="234.90" y2="432.30" stroke="#888" stroke-width="0.6" />
<line x1="52.50" y1="727.60" x2="52.50" y2="729.60" stroke="#888" stroke-width="0.6" />
<line x1="77.10" y1="727.60" x2="77.10" y2="729.60" stroke="#888" stroke-width="0.6" />
<line x1="101.70" y1="727.60" x2="101.70" y2="729.60" stroke="#888" stroke-width="0.6" />
<line x1="126.30" y1="727.60" x2="126.30" y2="729.60" stroke="#888" stroke-width="0.6" />
<line x1="150.90" y1="727.60" x2="150.90" y2="729.60" stroke="#888" stroke-width="0.6" />
<line x1="175.50" y1="727.60" x2="175.50" y2="729.60" stroke="#888" stroke-width="0.6" />
<line x1="200.10" y1="727.60" x2="200.10" y2="729.60" stroke="#888" stroke-width="0.6" />
<line x1="224.70" y1="727.60" x2="224.70" y2="729.60" stroke="#888" stroke-width="0.6" />
<line x1="41.50" y1="252.25" x2="41.50" y2="253.80" stroke="#999" stroke-width="0.6" />
<line x1="82.80" y1="252.25" x2="82.80" y2="253.80" stroke="#999" stroke-width="0.6" />
<line x1="126.50" y1="252.25" x2="126.50" y2="253.80" stroke="#999" stroke-width="0.6" />
<line x1="170.30" y1="252.25" x2="170.30" y2="253.80" stroke="#999" stroke-width="0.6" />
<line x1="214.00" y1="252.25" x2="214.00" y2="253.80" stroke="#999" stroke-width="0.6" />
<line x1="58.60" y1="160.45" x2="60.50" y2="160.45" stroke="#777" stroke-width="0.7" />
<line x1="58.60" y1="134.65" x2="60.50" y2="134.65" stroke="#777" stroke-width="0.7" />
<line x1="58.60" y1="108.85" x2="60.50" y2="108.85" stroke="#777" stroke-width="0.7" />
<line x1="58.60" y1="83.05" x2="60.50" y2="83.05" stroke="#777" stroke-width="0.7" />
<line x1="58.60" y1="57.25" x2="60.50" y2="57.25" stroke="#777" stroke-width="0.7" />
<line x1="58.60" y1="31.45" x2="60.50" y2="31.45" stroke="#777" stroke-width="0.7" />
<g opacity="0.995">
<text transform="translate(6.356 23.223) scale(0.21481 0.18936)" font-size="100" font-weight="bold" fill="#111">a)</text>
<text transform="translate(6.415 311.510) scale(0.21220 0.21383)" font-size="100" font-weight="bold" fill="#111">b)</text>
<text transform="translate(6.280 602.710) scale(0.20500 0.21383)" font-size="100" font-weight="bold" fill="#111">c)</text>
<text transform="translate(99.199 17.072) scale(0.11259 0.12817)" font-size="100" font-weight="normal" fill="#1e1e1e">10<tspan dy="-0.38em" font-size="0.62em">2</tspan></text>
<text transform="translate(132.664 12.921) scale(0.13371 0.10851)" font-size="100" font-weight="normal" fill="#1e1e1e">[km]</text>
<text transform="translate(188.811 18.123) scale(0.11741 0.12676)" font-size="100" font-weight="normal" fill="#1e1e1e">10<tspan dy="-0.38em" font-size="0.62em">1</tspan></text>
<text transform="translate(35.661 32.087) scale(0.11742 0.11268)" font-size="100" font-weight="normal" fill="#1e1e1e">10<tspan dy="-0.38em" font-size="0.62em">-1</tspan></text>
<text transform="translate(35.450 63.475) scale(0.11871 0.12535)" font-size="100" font-weight="normal" fill="#1e1e1e">10<tspan dy="-0.38em" font-size="0.62em">-2</tspan></text>
<text transform="translate(37.087 92.982) scale(0.11410 0.11831)" font-size="100" font-weight="normal" fill="#1e1e1e">10<tspan dy="-0.38em" font-size="0.62em">-3</tspan></text>
<text transform="translate(34.862 124.882) scale(0.11720 0.11831)" font-size="100" font-weight="normal" fill="#1e1e1e">10<tspan dy="-0.38em" font-size="0.62em">-4</tspan></text>
<text transform="translate(34.241 155.979) scale(0.11987 0.12113)" font-size="100" font-weight="normal" fill="#1e1e1e">10<tspan dy="-0.38em" font-size="0.62em">-5</tspan></text>
<text transform="translate(35.441 186.780) scale(0.11987 0.11972)" font-size="100" font-weight="normal" fill="#1e1e1e">10<tspan dy="-0.38em" font-size="0.62em">-6</tspan></text>
<text transform="translate(94.314 198.976) scale(0.12323 0.12394)" font-size="100" font-weight="normal" fill="#1e1e1e">10<tspan dy="-0.38em" font-size="0.62em">-2</tspan></text>
<text transform="translate(120.082 199.998) scale(0.13116 0.11915)" font-size="100" font-weight="normal" fill="#1e1e1e">[cycle/km]</text>
<text transform="translate(192.833 199.476) scale(0.10839 0.12394)" font-size="100" font-weight="normal" fill="#1e1e1e">10<tspan dy="-0.38em" font-size="0.62em">-1</tspan></text>
<text transform="translate(24.403 166.548) scale(0.10278 0.13105) rotate(-90)" font-size="100" font-weight="normal" fill="#1e1e1e">PSD [lm<tspan dy="-0.38em" font-size="0.62em">2</tspan><tspan dy="0.38em">/cycle/km]</tspan></text>
<text transform="translate(20.510 226.803) scale(0.09804 0.09718)" font-size="100" font-weight="normal" fill="#1e1e1e">70</text>
<text transform="translate(20.602 241.154) scale(0.09905 0.09648)" font-size="100" font-weight="normal" fill="#1e1e1e">40</text>
<text transform="translate(19.760 253.654) scale(0.10505 0.09648)" font-size="100" font-weight="normal" fill="#1e1e1e">10</text>
<text transform="translate(13.674 254.634) scale(0.07635 0.07919) rotate(-90)" font-size="100" font-weight="normal" fill="#1e1e1e">Num line</text>
<text transform="translate(39.433 260.846) scale(0.06667 0.05352)" font-size="100" font-weight="normal" fill="#1e1e1e">0</text>
<text transform="translate(68.895 264.001) scale(0.10065 0.09859)" font-size="100" font-weight="normal" fill="#1e1e1e">100</text>
<text transform="translate(113.091 264.304) scale(0.10190 0.09577)" font-size="100" font-weight="normal" fill="#1e1e1e">200</text>
<text transform="translate(151.992 264.304) scale(0.10189 0.09577)" font-size="100" font-weight="normal" fill="#1e1e1e">300</text>
<text transform="translate(192.399 262.594) scale(0.10062 0.10563)" font-size="100" font-weight="normal" fill="#1e1e1e">400</text>
<text transform="translate(59.500 278.457) scale(0.11211 0.13298)" font-size="100" font-weight="normal" fill="#1e1e1e">Area distance along track [km]</text>
<text transform="translate(38.092 329.285) scale(0.12157 0.11549)" font-size="100" font-weight="normal" fill="#1e1e1e">70</text>
<text transform="translate(38.092 344.785) scale(0.12157 0.11549)" font-size="100" font-weight="normal" fill="#1e1e1e">60</text>
<text transform="translate(38.218 361.185) scale(0.12039 0.11549)" font-size="100" font-weight="normal" fill="#1e1e1e">50</text>
<text transform="translate(38.464 378.285) scale(0.11810 0.11549)" font-size="100" font-weight="normal" fill="#1e1e1e">40</text>
<text transform="translate(38.218 394.785) scale(0.12039 0.11549)" font-size="100" font-weight="normal" fill="#1e1e1e">30</text>
<text transform="translate(38.092 411.785) scale(0.12157 0.11549)" font-size="100" font-weight="normal" fill="#1e1e1e">20</text>
<text transform="translate(37.698 428.685) scale(0.12525 0.11549)" font-size="100" font-weight="normal" fill="#1e1e1e">10</text>
<text transform="translate(12.784 400.249) scale(0.11622 0.11859) rotate(-90)" font-size="100" font-weight="normal" fill="#1e1e1e">Num line</text>
<text transform="translate(274.319 337.882) scale(0.12032 0.11831)" font-size="100" font-weight="normal" fill="#1e1e1e">0.10</text>
<text transform="translate(273.746 358.986) scale(0.11344 0.11408)" font-size="100" font-weight="normal" fill="#1e1e1e">0.05</text>
<text transform="translate(273.742 380.993) scale(0.11458 0.10704)" font-size="100" font-weight="normal" fill="#1e1e1e">0</text>
<text transform="translate(273.751 401.282) scale(0.11227 0.11831)" font-size="100" font-weight="normal" fill="#1e1e1e">-0.05</text>
<text transform="translate(274.051 423.285) scale(0.11227 0.11549)" font-size="100" font-weight="normal" fill="#1e1e1e">-0.10</text>
<text transform="translate(314.199 406.300) scale(0.10957 0.11643) rotate(-90)" font-size="100" font-weight="normal" fill="#1e1e1e">ADT_swot [m]</text>
<text transform="translate(28.327 448.094) scale(0.11828 0.10563)" font-size="100" font-weight="normal" fill="#1e1e1e">0.01</text>
<text transform="translate(28.327 468.186) scale(0.11828 0.11408)" font-size="100" font-weight="normal" fill="#1e1e1e">0.05</text>
<text transform="translate(28.329 487.094) scale(0.11765 0.10563)" font-size="100" font-weight="normal" fill="#1e1e1e">0.00</text>
<text transform="translate(25.244 507.893) scale(0.11409 0.10704)" font-size="100" font-weight="normal" fill="#1e1e1e">-0.05</text>
<text transform="translate(31.539 525.501) scale(0.11534 0.09859)" font-size="100" font-weight="normal" fill="#1e1e1e">-0.1</text>
<text transform="translate(25.244 542.090) scale(0.11409 0.10986)" font-size="100" font-weight="normal" fill="#1e1e1e">-0.15</text>
<text transform="translate(12.731 529.700) scale(0.12234 0.11594) rotate(-90)" font-size="100" font-weight="normal" fill="#1e1e1e">ADT_swot [m]</text>
<text transform="translate(61.979 557.894) scale(0.13021 0.10563)" font-size="100" font-weight="normal" fill="#1e1e1e">0</text>
<text transform="translate(109.262 557.894) scale(0.11905 0.10563)" font-size="100" font-weight="normal" fill="#1e1e1e">40</text>
<text transform="translate(154.742 558.286) scale(0.11456 0.11408)" font-size="100" font-weight="normal" fill="#1e1e1e">80</text>
<text transform="translate(200.778 558.286) scale(0.12774 0.11408)" font-size="100" font-weight="normal" fill="#1e1e1e">120</text>
<text transform="translate(73.750 574.819) scale(0.11185 0.12766)" font-size="100" font-weight="normal" fill="#1e1e1e">Area distance along track [km]</text>
<text transform="translate(26.077 627.487) scale(0.12451 0.11268)" font-size="100" font-weight="normal" fill="#1e1e1e">70</text>
<text transform="translate(26.077 643.787) scale(0.12451 0.11268)" font-size="100" font-weight="normal" fill="#1e1e1e">60</text>
<text transform="translate(26.207 659.987) scale(0.12330 0.11268)" font-size="100" font-weight="normal" fill="#1e1e1e">50</text>
<text transform="translate(26.458 676.887) scale(0.12095 0.11268)" font-size="100" font-weight="normal" fill="#1e1e1e">40</text>
<text transform="translate(26.207 693.887) scale(0.12330 0.11268)" font-size="100" font-weight="normal" fill="#1e1e1e">30</text>
<text transform="translate(26.077 710.187) scale(0.12451 0.11268)" font-size="100" font-weight="normal" fill="#1e1e1e">20</text>
<text transform="translate(25.674 727.087) scale(0.12828 0.11268)" font-size="100" font-weight="normal" fill="#1e1e1e">10</text>
<text transform="translate(18.885 704.457) scale(0.11486 0.11963) rotate(-90)" font-size="100" font-weight="normal" fill="#1e1e1e">Num line</text>
<text transform="translate(261.515 627.690) scale(0.12136 0.10986)" font-size="100" font-weight="normal" fill="#1e1e1e">50</text>
<text transform="translate(261.762 647.690) scale(0.11905 0.10986)" font-size="100" font-weight="normal" fill="#1e1e1e">40</text>
<text transform="translate(261.515 666.785) scale(0.12136 0.11479)" font-size="100" font-weight="normal" fill="#1e1e1e">35</text>
<text transform="translate(261.515 685.486) scale(0.12136 0.11408)" font-size="100" font-weight="normal" fill="#1e1e1e">30</text>
<text transform="translate(261.387 703.183) scale(0.12255 0.11690)" font-size="100" font-weight="normal" fill="#1e1e1e">25</text>
<text transform="translate(261.387 723.885) scale(0.12255 0.11549)" font-size="100" font-weight="normal" fill="#1e1e1e">20</text>
<text transform="translate(293.476 697.577) scale(0.12021 0.11538) rotate(-90)" font-size="100" font-weight="normal" fill="#1e1e1e">Sigma0 [m]</text>
<text transform="translate(27.038 741.890) scale(0.11538 0.10986)" font-size="100" font-weight="normal" fill="#1e1e1e">34</text>
<text transform="translate(27.029 762.182) scale(0.11765 0.11831)" font-size="100" font-weight="normal" fill="#1e1e1e">32</text>
<text transform="translate(27.034 780.787) scale(0.11650 0.11268)" font-size="100" font-weight="normal" fill="#1e1e1e">30</text>
<text transform="translate(26.912 801.582) scale(0.11765 0.11831)" font-size="100" font-weight="normal" fill="#1e1e1e">28</text>
<text transform="translate(26.912 819.187) scale(0.11765 0.11268)" font-size="100" font-weight="normal" fill="#1e1e1e">26</text>
<text transform="translate(26.917 835.800) scale(0.11650 0.11571)" font-size="100" font-weight="normal" fill="#1e1e1e">24</text>
<text transform="translate(18.221 819.170) scale(0.10851 0.11397) rotate(-90)" font-size="100" font-weight="normal" fill="#505050">Sigma0 [m]</text>
<text transform="translate(51.542 854.394) scale(0.11458 0.10563)" font-size="100" font-weight="normal" fill="#1e1e1e">0</text>
<text transform="translate(93.512 854.394) scale(0.11905 0.10563)" font-size="100" font-weight="normal" fill="#1e1e1e">40</text>
<text transform="translate(142.730 854.685) scale(0.11748 0.11549)" font-size="100" font-weight="normal" fill="#1e1e1e">80</text>
<text transform="translate(186.519 854.685) scale(0.12258 0.11549)" font-size="100" font-weight="normal" fill="#1e1e1e">120</text>
<text transform="translate(83.750 868.664) scale(0.11185 0.12553)" font-size="100" font-weight="normal" fill="#1e1e1e">Area distance along track [km]</text>
</g></svg>
</body></html>
